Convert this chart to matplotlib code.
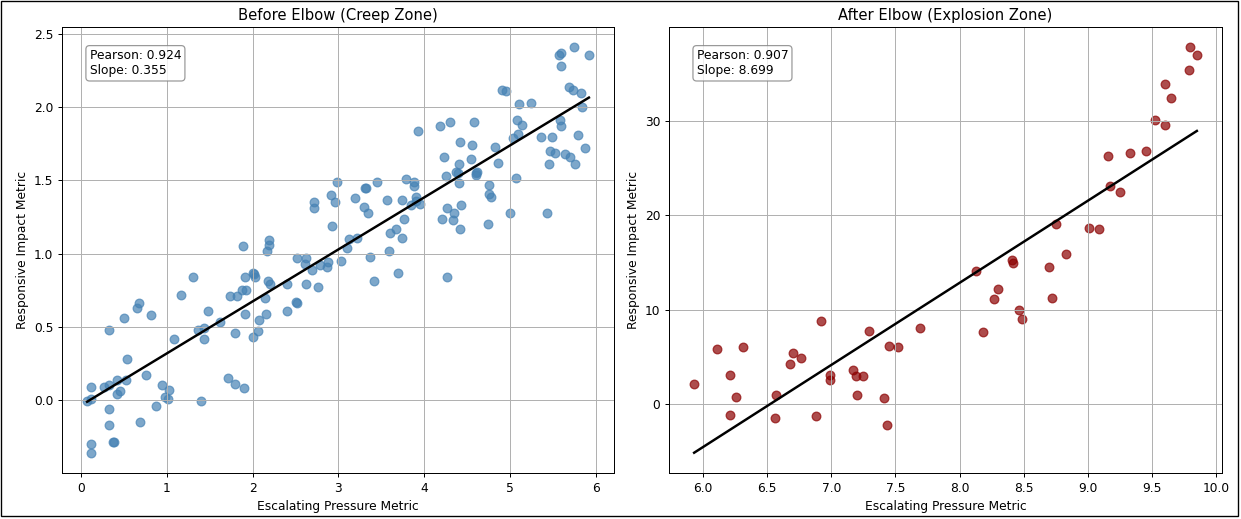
import numpy as np
import matplotlib
matplotlib.use("Agg")
import matplotlib.pyplot as plt
from matplotlib.patches import Rectangle

# Before elbow (creep zone) points
creep_x = [1.89, 2.17, 2.52, 2.62, 2.61, 2.78, 2.88, 2.87, 2.69, 3.03, 3.10, 1.30, 1.16, 1.91,
           2.00, 2.02, 2.03, 2.18, 2.20, 2.40, 2.62, 2.76, 1.74, 1.82, 1.88, 1.92, 2.14, 2.50,
           2.52, 0.67, 0.65, 1.48, 1.91, 2.15, 2.40, 0.50, 0.81, 2.07, 1.62, 0.32, 1.36, 1.43,
           1.80, 2.06, 1.08, 1.43, 2.00, 0.54, 0.76, 0.42, 0.52, 0.11, 0.27, 0.33, 0.45, 0.42,
           0.94, 1.02, 0.98, 1.01, 0.11, 0.07, 1.71, 1.79, 1.90, 1.40, 0.33, 0.87, 0.32, 0.69,
           0.37, 0.38, 0.12, 0.12, 3.37, 3.59, 3.70, 3.41, 4.27, 2.19, 2.19, 2.72, 2.71, 2.91,
           2.98, 2.96, 2.92, 3.19, 3.12, 3.22, 3.30, 3.34, 3.31, 3.32, 3.45, 3.57, 3.74, 3.79,
           3.88, 3.88, 3.91, 3.90, 3.95, 3.85, 3.76, 3.67, 3.60, 3.74, 3.93, 4.18, 4.30, 4.58,
           4.23, 4.42, 4.56, 4.41, 4.55, 4.37, 4.39, 4.25, 4.41, 4.60, 4.61, 4.60, 4.27, 4.35,
           4.43, 4.21, 4.34, 4.42, 4.74, 4.75, 4.76, 4.78, 4.83, 4.86, 4.91, 4.95, 5.10, 5.25,
           5.08, 5.14, 5.04, 5.09, 5.07, 5.00, 5.36, 5.49, 5.47, 5.53, 5.46, 5.43, 5.64, 5.70,
           5.76, 5.79, 5.88, 5.58, 5.59, 5.69, 5.74, 5.83, 5.84, 5.57, 5.59, 5.59, 5.75, 5.92]
creep_y = [1.05, 1.02, 0.97, 0.97, 0.93, 0.92, 0.94, 0.91, 0.89, 0.95, 1.04, 0.84, 0.72, 0.84,
           0.87, 0.86, 0.84, 0.81, 0.79, 0.79, 0.79, 0.77, 0.71, 0.71, 0.75, 0.75, 0.70, 0.67,
           0.66, 0.66, 0.63, 0.61, 0.59, 0.59, 0.61, 0.56, 0.58, 0.55, 0.53, 0.48, 0.48, 0.49,
           0.46, 0.47, 0.42, 0.42, 0.43, 0.28, 0.17, 0.14, 0.14, 0.09, 0.09, 0.10, 0.06, 0.04,
           0.10, 0.07, 0.02, 0.01, 0.01, -0.01, 0.15, 0.11, 0.08, -0.01, -0.06, -0.04, -0.17, -0.15,
           -0.29, -0.29, -0.30, -0.36, 0.98, 1.02, 0.87, 0.81, 0.84, 1.09, 1.06, 1.35, 1.31, 1.40,
           1.49, 1.35, 1.19, 1.38, 1.10, 1.11, 1.32, 1.28, 1.45, 1.45, 1.49, 1.37, 1.37, 1.51,
           1.49, 1.46, 1.39, 1.36, 1.34, 1.33, 1.24, 1.17, 1.14, 1.11, 1.84, 1.87, 1.90, 1.90,
           1.66, 1.76, 1.74, 1.61, 1.65, 1.56, 1.55, 1.53, 1.48, 1.55, 1.56, 1.54, 1.31, 1.28,
           1.33, 1.24, 1.23, 1.17, 1.20, 1.47, 1.41, 1.39, 1.73, 1.62, 2.12, 2.11, 2.02, 2.03,
           1.91, 1.88, 1.79, 1.82, 1.52, 1.28, 1.80, 1.80, 1.70, 1.69, 1.61, 1.28, 1.68, 1.66,
           1.61, 1.81, 1.72, 1.91, 1.87, 2.14, 2.12, 2.10, 2.00, 2.36, 2.37, 2.28, 2.41, 2.36]

# After elbow (explosion zone) points
expl_x = [5.93, 6.11, 6.21, 6.21, 6.26, 6.31, 6.57, 6.56, 6.68, 6.70, 6.76, 6.88, 6.92, 6.99,
          6.99, 7.17, 7.19, 7.20, 7.25, 7.29, 7.41, 7.43, 7.45, 7.52, 7.69, 8.13, 8.18, 8.27,
          8.30, 8.41, 8.42, 8.46, 8.49, 8.70, 8.72, 8.75, 8.83, 9.01, 9.09, 9.16, 9.17, 9.25,
          9.33, 9.45, 9.52, 9.60, 9.60, 9.65, 9.79, 9.80, 9.85]
expl_y = [2.1, 5.8, 3.1, -1.1, 0.8, 6.0, 1.0, -1.5, 4.2, 5.4, 4.9, -1.3, 8.8, 3.1,
          2.6, 3.6, 3.0, 1.0, 3.0, 7.7, 0.7, -2.2, 6.2, 6.0, 8.1, 14.1, 7.6, 11.1,
          12.2, 15.3, 14.9, 10.0, 9.0, 14.5, 11.2, 19.1, 15.9, 18.7, 18.5, 26.3, 23.1, 22.5,
          26.6, 26.8, 30.1, 33.9, 29.6, 32.4, 35.4, 37.8, 37.0]

creep_stats = "Pearson: 0.924\nSlope: 0.355"
expl_stats = "Pearson: 0.907\nSlope: 8.699"

W, H = 1241, 519
dpi = W / 14
fig = plt.figure(figsize=(14, H / dpi), dpi=dpi)

# thin frame around the figure
fig.patches.append(Rectangle((1 / W, 1 - 516 / H), 1237 / W, 515 / H,
                             transform=fig.transFigure, fill=False,
                             edgecolor="black", linewidth=1.1))

ax1 = fig.add_axes([62 / W, 1 - 473 / H, 552 / W, 446 / H])
ax2 = fig.add_axes([669 / W, 1 - 473 / H, 553 / W, 446 / H])

panels = [
    (ax1, creep_x, creep_y, "steelblue", "Before Elbow (Creep Zone)", creep_stats),
    (ax2, expl_x, expl_y, "darkred", "After Elbow (Explosion Zone)", expl_stats),
]

for ax, xs, ys, color, title, stats in panels:
    xs = np.array(xs)
    ys = np.array(ys)
    ax.scatter(xs, ys, color=color, alpha=0.7, s=50)
    slope, intercept = np.polyfit(xs, ys, 1)
    xl = np.array([xs.min(), xs.max()])
    ax.plot(xl, slope * xl + intercept, color="black", linewidth=2)
    ax.set_title(title, fontsize=12)
    ax.set_xlabel("Escalating Pressure Metric")
    ax.set_ylabel("Responsive Impact Metric")
    ax.grid(True)
    ax.text(0.05, 0.95, stats, transform=ax.transAxes, fontsize=10, va="top",
            bbox=dict(boxstyle="round", facecolor="white", edgecolor="gray", alpha=0.8))

fig.savefig("out.png", dpi=dpi)
